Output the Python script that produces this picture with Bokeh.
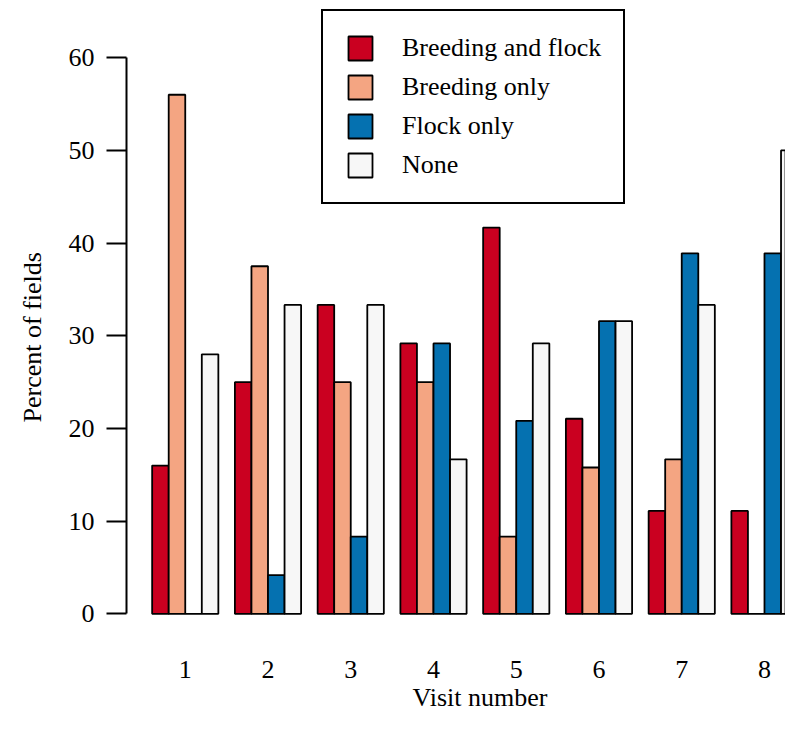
from bokeh.plotting import figure
from bokeh.models import Range1d, FixedTicker, Legend, LegendItem, ColumnDataSource, Title
from bokeh.embed import file_html
from bokeh.resources import INLINE

# ---- data ----
visits = ["1", "2", "3", "4", "5", "6", "7", "8"]
series_names = ["Breeding and flock", "Breeding only", "Flock only", "None"]
breeding_flock = [16.0, 25.0, 33.33, 29.17, 41.67, 21.05, 11.11, 11.11]
breeding_only = [56.0, 37.5, 25.0, 25.0, 8.33, 15.79, 16.67, 0.0]
flock_only = [0.0, 4.17, 8.33, 29.17, 20.83, 31.58, 38.89, 38.89]
none_vals = [28.0, 33.33, 33.33, 16.67, 29.17, 31.58, 33.33, 50.0]
y_ticks = [0, 10, 20, 30, 40, 50, 60]

colors = ["#CA0020", "#F4A582", "#0571B0", "#F7F7F7"]
FONT = "Liberation Serif"

n_series = 4
group_step = n_series + 1  # R barplot beside=TRUE, space=c(0,1)

p = figure(width=785, height=718, output_backend="svg", toolbar_location=None,
           title=None,
           x_range=Range1d(-0.55, 39.27), y_range=Range1d(-0.5, 66.17),
           min_border_left=126, min_border_right=0, min_border_top=0,
           min_border_bottom=100)
p.background_fill_color = "white"
p.border_fill_color = "white"
p.outline_line_color = None
p.xgrid.visible = False
p.ygrid.visible = False

items = []
for j, (name, vals, col) in enumerate(zip(series_names,
                                          [breeding_flock, breeding_only, flock_only, none_vals],
                                          colors)):
    xs = [k * group_step + j + 1.5 for k in range(len(visits))]
    src = ColumnDataSource(dict(x=xs, top=vals))
    r = p.vbar(x="x", top="top", bottom=0, width=1, source=src,
               fill_color=col, line_color="black", line_width=1.8)
    items.append(LegendItem(label=name, renderers=[r]))

# x axis: labels only, at group centres
centers = [k * group_step + 1 + n_series / 2 for k in range(len(visits))]
p.xaxis.ticker = FixedTicker(ticks=centers)
p.xaxis.major_label_overrides = {c: v for c, v in zip(centers, visits)}
p.xaxis.axis_line_color = None
p.xaxis.major_tick_line_color = None
p.xaxis.minor_tick_line_color = None
p.xaxis.major_label_text_font = FONT
p.xaxis.major_label_text_font_size = "26px"
p.xaxis.major_label_text_color = "black"
p.xaxis.major_label_standoff = 36

# y axis
p.yaxis.ticker = FixedTicker(ticks=y_ticks)
p.yaxis.bounds = (0, 60)
p.yaxis.axis_line_width = 2
p.yaxis.axis_line_color = "black"
p.yaxis.major_tick_out = 20
p.yaxis.major_tick_in = 0
p.yaxis.major_tick_line_width = 2
p.yaxis.major_tick_line_color = "black"
p.yaxis.minor_tick_line_color = None
p.yaxis.major_label_standoff = 12
p.yaxis.major_label_text_font = FONT
p.yaxis.major_label_text_font_size = "26px"
p.yaxis.major_label_text_color = "black"

# axis titles (side-panel titles, offset along the frame)
p.add_layout(Title(text="Visit number", align="left", offset=286,
                   vertical_align="top", standoff=5, text_font=FONT,
                   text_font_size="26px", text_font_style="normal",
                   text_color="black"), "below")
p.add_layout(Title(text="Percent of fields", align="left", offset=196,
                   vertical_align="top", standoff=34, text_font=FONT,
                   text_font_size="26px", text_font_style="normal",
                   text_color="black"), "left")

legend = Legend(items=items, location=(195, 414), orientation="vertical",
                glyph_width=30, glyph_height=30, label_height=30, label_width=20,
                label_standoff=27, padding=22, spacing=9, margin=0,
                border_line_color="black", border_line_width=2, border_line_alpha=1,
                background_fill_color="white", background_fill_alpha=1,
                label_text_font=FONT, label_text_font_size="26px",
                label_text_color="black")
p.add_layout(legend, "center")

open("out.html", "w").write(file_html(p, INLINE))
